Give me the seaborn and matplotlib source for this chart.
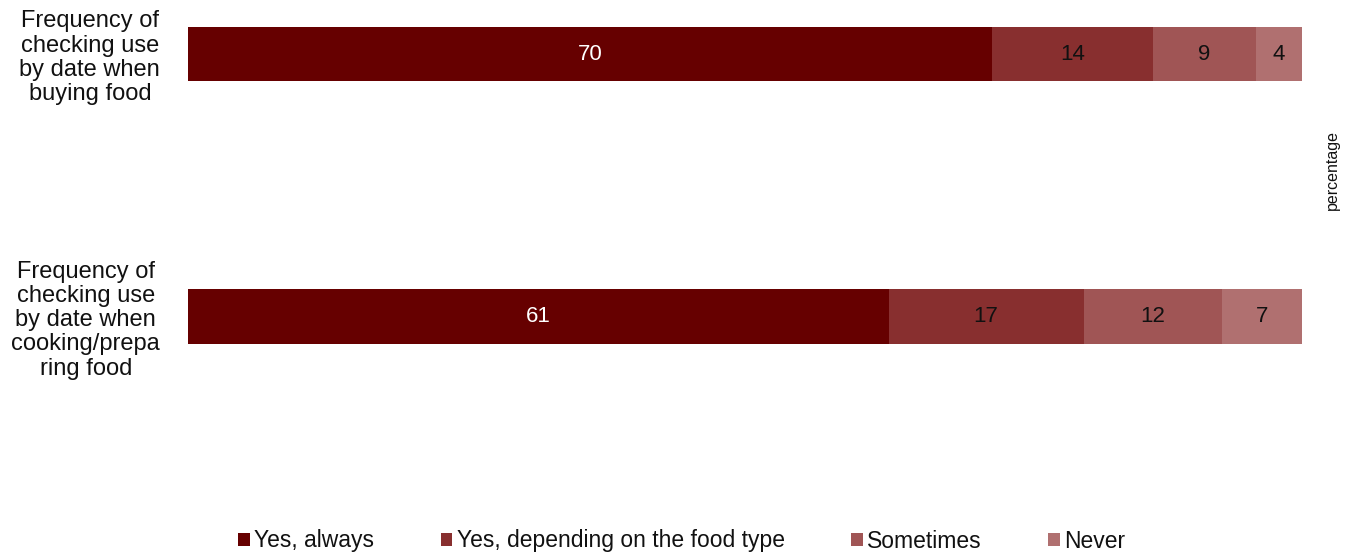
import numpy as np
import pandas as pd
import matplotlib
matplotlib.use("Agg")
import matplotlib.pyplot as plt
import seaborn as sns
from matplotlib.patches import Patch

# ---------------- data ----------------
questions = ["Frequency of\nchecking use\nby date when\nbuying food",
             "Frequency of\nchecking use\nby date when\ncooking/prepa\nring food"]
answers = ["Yes, always", "Yes, depending on the food type", "Sometimes", "Never"]
always = [70, 61]
depending = [14, 17]
sometimes = [9, 12]
never = [4, 7]
colors = ["#660000", "#882F2F", "#A05555", "#B07070"]
label_colors = ["white", "#111111", "#111111", "#111111"]

sns.set_style("white")
plt.rcParams["font.family"] = ["Liberation Sans", "DejaVu Sans"]
plt.rcParams["text.color"] = "#111111"
plt.rcParams["ytick.color"] = "#111111"

df = pd.DataFrame({"question": questions, answers[0]: always, answers[1]: depending,
                   answers[2]: sometimes, answers[3]: never})
cum = df[answers].cumsum(axis=1)

fig = plt.figure(figsize=(13.53, 5.55), dpi=100)
W, H = 1353, 555
top_px, bot_px = 20, 480
ax = fig.add_axes([188 / W, 1 - bot_px / H, 1114 / W, (bot_px - top_px) / H])

# overlay cumulative bars, longest first, so they read as a stacked bar
for i in range(len(answers) - 1, -1, -1):
    sns.barplot(x=cum[answers[i]], y=df["question"], color=colors[i], orient="h",
                width=0.206, saturation=1, ax=ax, edgecolor="none")

# segment labels
for r in range(len(df)):
    left = 0
    for i, a in enumerate(answers):
        v = df.loc[r, a]
        ax.text(left + v / 2, r, f"{v}", ha="center", va="center",
                fontsize=16, color=label_colors[i])
        left += v

ax.set_xlim(0, cum[answers[-1]].max())
scale = 262.5
ax.set_ylim((bot_px - 54) / scale, (top_px - 54) / scale)
ax.set_xlabel("")
ax.set_ylabel("")
ax.set_xticks([])
ax.tick_params(axis="y", length=0, pad=20)
for lab in ax.get_yticklabels():
    lab.set_fontsize(17)
    lab.set_multialignment("center")
    lab.set_linespacing(1.13)
sns.despine(ax=ax, left=True, bottom=True)

fig.text(1332 / W, 1 - 170 / H, "percentage", rotation=90, ha="center", va="center",
         fontsize=11.5)

handles = [Patch(facecolor=c, edgecolor="none") for c in colors]
fig.legend(handles, answers, loc="center", bbox_to_anchor=(682 / W, 1 - 541 / H),
           ncol=4, frameon=False, fontsize=16.5, handlelength=0.5, handleheight=0.5,
           handletextpad=0.2, columnspacing=2.9)

fig.savefig("out.png", dpi=100)
